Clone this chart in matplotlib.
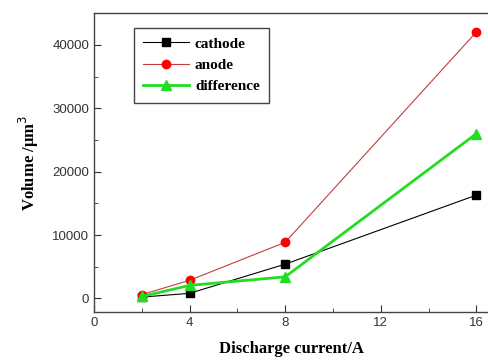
import matplotlib
matplotlib.use('Agg')
import matplotlib.pyplot as plt
from matplotlib.ticker import MultipleLocator

# discharge current (A)
current = [2, 4, 8, 16]
# volume (um^3)
cathode = [200, 800, 5400, 16300]
anode = [600, 2850, 8850, 42050]
difference = [300, 2050, 3400, 26000]

fig = plt.figure(figsize=(4.89, 3.61), dpi=100)
ax = fig.add_axes([0.1922, 0.1366, 0.8078, 0.8265])

ax.plot(current, cathode, color='black', lw=0.8, marker='s', ms=6, label='cathode')
ax.plot(current, anode, color='#c04040', lw=0.8, marker='o', ms=6,
        mfc='red', mec='red', label='anode')
ax.plot(current, difference, color='#22dd22', lw=2.0, marker='^', ms=7,
        mfc='#22dd22', mec='#22dd22', label='difference')

ax.set_xlim(0, 16.53)
ax.set_ylim(-2100, 45000)
ax.xaxis.set_major_locator(MultipleLocator(4))
ax.xaxis.set_minor_locator(MultipleLocator(2))
ax.yaxis.set_major_locator(MultipleLocator(10000))
ax.yaxis.set_minor_locator(MultipleLocator(5000))
ax.tick_params(which='both', direction='in', top=False, right=False,
               labelsize=9.5, labelcolor='#333333', color='#333333')
ax.tick_params(which='major', length=5)
ax.tick_params(which='minor', length=3)
ax.spines['right'].set_visible(False)
for s in ['left', 'bottom', 'top']:
    ax.spines[s].set_color('#444444')
    ax.spines[s].set_linewidth(1.0)
for lbl in ax.get_xticklabels() + ax.get_yticklabels():
    lbl.set_family('Liberation Sans')

ax.set_xlabel('Discharge current/A', family='Liberation Serif', fontweight='bold',
              fontsize=12, labelpad=9)
ax.set_ylabel('Volume /\u03bcm$^3$', family='Liberation Serif', fontweight='bold',
              fontsize=12, labelpad=8)

leg = ax.legend(loc='upper left', bbox_to_anchor=(0.101, 0.951), borderaxespad=0,
                fancybox=False, edgecolor='#444444', framealpha=1,
                handlelength=3.0, borderpad=0.6, labelspacing=0.5, handletextpad=0.4,
                prop={'family': 'Liberation Serif', 'weight': 'bold', 'size': 11})
leg.get_frame().set_linewidth(1.0)

fig.savefig('out.png', dpi=100)
